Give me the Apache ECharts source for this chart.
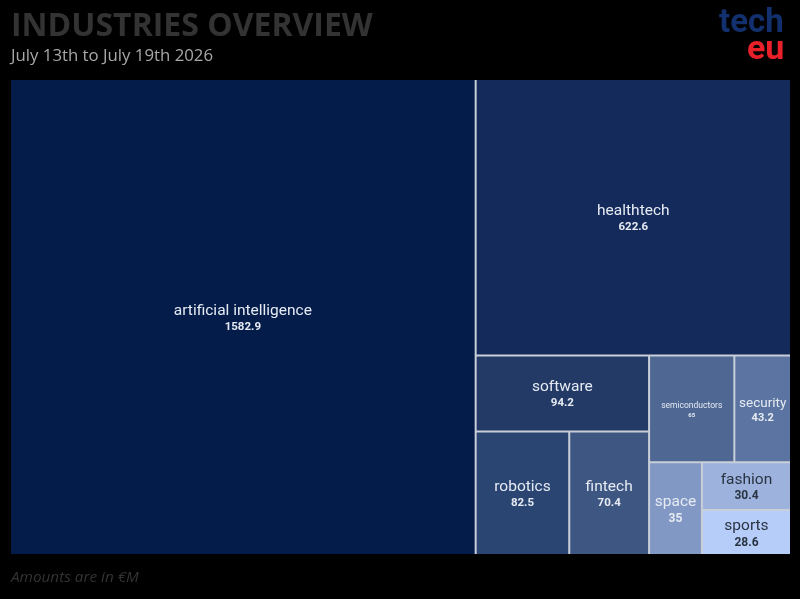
<!DOCTYPE html>
<html>
<head>
<meta charset="utf-8">
<script src="https://cdn.jsdelivr.net/npm/echarts@6/dist/echarts.min.js"></script>
<style>
  html, body { margin: 0; padding: 0; background: #000; }
  #chart { width: 800px; height: 599px; }
</style>
</head>
<body>
<div id="chart"></div>
<script>
// Weekly funding by industry, amounts in EUR millions.
const industries = [
  "artificial intelligence", "healthtech", "software", "robotics", "fintech",
  "semiconductors", "security", "space", "fashion", "sports",
];
const amounts = [1582.9, 622.6, 94.2, 82.5, 70.4, 65, 43.2, 35, 30.4, 28.6];
const fills = [
  "#041c4a", "#142a5a", "#233a66", "#2b4573", "#3e5682",
  "#4e6793", "#5b74a1", "#8198c4", "#9db3dd", "#b5cdf8",
];

// Grouping of tiles (indices into the arrays above) so the nesting matches the
// source layout; echarts squarifies each group in order.
const grouping = [0, [1, [[2, [3, 4]], [[5, 6], [7, [8, 9]]]]]];

const LIGHT = "#e6ebf3";
const DARK = "#2a3342";
const FONT = "Roboto";
const GAP = "#c9cfd9";

// label text sizes; semiconductors and security sit in narrow tiles
const textSize = (i) => {
  if (industries[i] === "semiconductors") return { n: 8.5, v: 6, nl: 11, vl: 9 };
  if (industries[i] === "security") return { n: 13.5, v: 11, nl: 16, vl: 14 };
  return { n: 15.5, v: i >= 7 ? 12 : 11.5, nl: 17, vl: 15 };
};

const labelFor = (i, padTop) => {
  const s = textSize(i);
  const color = i >= 8 ? DARK : LIGHT;
  return {
    padding: [padTop, 0, 0, 0],
    rich: {
      n: { color, fontSize: s.n, fontFamily: FONT, lineHeight: s.nl, align: "center" },
      v: { color, fontSize: s.v, fontWeight: "bold", fontFamily: FONT, lineHeight: s.vl, align: "center" },
    },
  };
};

const build = (g, layouts) => {
  if (typeof g === "number") {
    const box = layouts && layouts[industries[g]];
    const s = textSize(g);
    const pad = box ? Math.max(0, (box.height - s.nl - s.vl) / 2 + 1.5) : 0;
    return {
      name: industries[g],
      value: amounts[g],
      itemStyle: { color: fills[g] },
      label: labelFor(g, pad),
    };
  }
  const children = g.map((c) => build(c, layouts));
  return {
    name: "",
    value: children.reduce((a, c) => a + c.value, 0),
    children,
  };
};

const chart = echarts.init(document.getElementById("chart"));
chart.setOption({
  backgroundColor: "#000",
  graphic: [
    {
      type: "text", left: 11, top: 11,
      style: { text: "INDUSTRIES OVERVIEW", fill: "#333", fontSize: 32, fontWeight: "bold", fontFamily: "Open Sans" },
    },
    {
      type: "text", left: 11, top: 48,
      style: { text: "July 13th to July 19th 2026", fill: "#a8a8a8", fontSize: 16.8, fontFamily: "Open Sans" },
    },
    {
      type: "text", left: 11, top: 570,
      style: { text: "Amounts are in €M", fill: "#333", fontSize: 15.3, fontStyle: "italic", fontFamily: "Open Sans" },
    },
    {
      type: "text", left: 719, top: 7,
      style: { text: "tech", fill: "#12306e", fontSize: 33, fontWeight: "bold", fontFamily: FONT },
    },
    {
      type: "text", left: 747, top: 33,
      style: { text: "eu", fill: "#e8202a", fontSize: 34, fontWeight: "bold", fontFamily: FONT },
    },
  ],
  series: [
    {
      type: "treemap",
      left: 11, top: 80, width: 779, height: 474,
      roam: false,
      nodeClick: false,
      sort: false,
      animation: false,
      breadcrumb: { show: false },
      squareRatio: 1,
      itemStyle: { borderColor: GAP, borderWidth: 0, gapWidth: 2 },
      levels: [0, 1, 2, 3, 4, 5].map(() => ({
        itemStyle: { borderColor: GAP, borderWidth: 0, gapWidth: 2 },
      })),
      label: {
        show: true,
        position: "insideTop",
        formatter: (p) => `{n|${p.name}}\n{v|${p.value}}`,
      },
      data: grouping.map((g) => build(g)),
    },
  ],
});

// treemap labels sit at the top of their tile; read the tile boxes back and
// pad each label down so it is centred vertically
const data = chart.getModel().getSeriesByIndex(0).getData();
const layouts = {};
for (let k = 0; k < data.count(); k++) {
  const name = data.getName(k);
  if (name) layouts[name] = data.getItemLayout(k);
}
chart.setOption({ series: [{ data: grouping.map((g) => build(g, layouts)) }] });
</script>
</body>
</html>
